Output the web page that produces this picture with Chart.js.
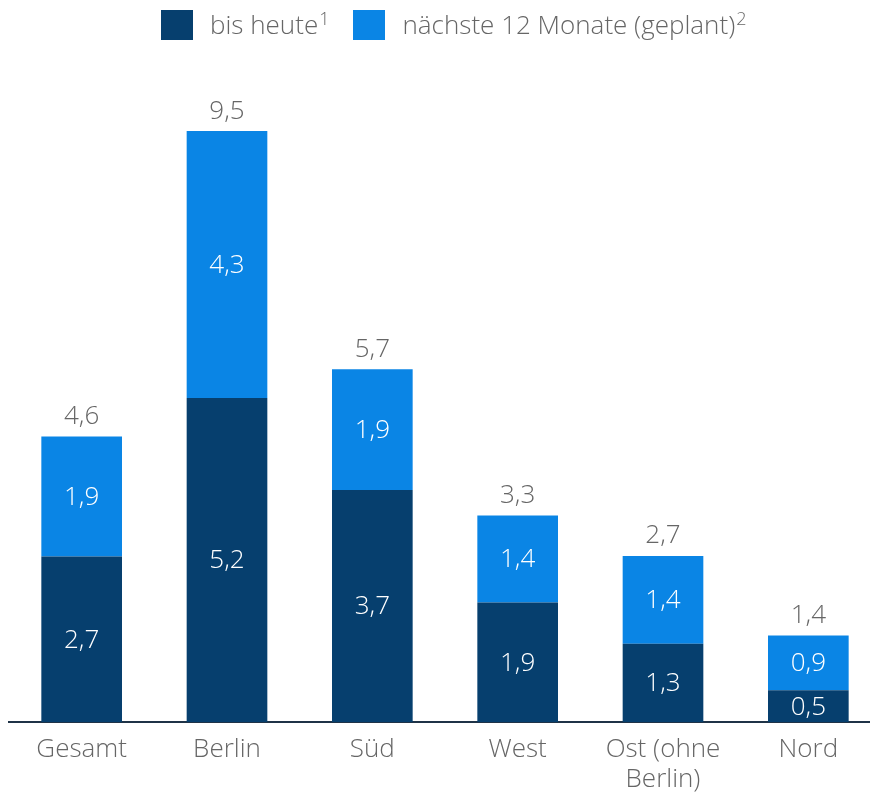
<!DOCTYPE html>
<html>
<head>
<meta charset="utf-8">
<script src="https://cdn.jsdelivr.net/npm/chart.js@4"></script>
<style>
  html, body { margin: 0; padding: 0; background: #fff; overflow: hidden; width: 870px; height: 794px; }
  #wrap { position: relative; width: 882px; height: 794px; }
  canvas { position: absolute; left: 0; top: 0; }
  .legend { position: absolute; top: 9px; left: 161px; display: flex; align-items: center; font-family: "Open Sans", sans-serif; font-weight: 300; font-size: 26px; color: #666; line-height: 31px; }
  .legend .item { display: flex; align-items: center; margin-right: 24px; }
  .legend .box { width: 32px; height: 30px; margin-right: 17px; }
  .legend sup { font-size: 18px; vertical-align: 9px; line-height: 0; margin-left: 1px; }
</style>
</head>
<body>
<div id="wrap">
  <canvas id="c" width="882" height="794"></canvas>
  <div class="legend">
    <div class="item"><span class="box" style="background:#063f6e"></span><span>bis heute<sup>1</sup></span></div>
    <div class="item"><span class="box" style="background:#0a85e5"></span><span>nächste 12 Monate (geplant)<sup>2</sup></span></div>
  </div>
</div>
<script>
const categories = [["Gesamt"], ["Berlin"], ["Süd"], ["West"], ["Ost (ohne", "Berlin)"], ["Nord"]];
const seriesNames = ["bis heute¹", "nächste 12 Monate (geplant)²"];
const bisHeute = [2.66, 5.21, 3.73, 1.92, 1.26, 0.51];
const naechste12 = [1.93, 4.29, 1.94, 1.40, 1.41, 0.88];

const fmt = v => (Math.round(v * 10) / 10).toFixed(1).replace('.', ',');
const FONT = '300 26px "Open Sans", sans-serif';

const labelPlugin = {
  id: 'labels',
  afterDatasetsDraw(chart) {
    const ctx = chart.ctx;
    ctx.save();
    ctx.font = FONT;
    ctx.textAlign = 'center';
    ctx.textBaseline = 'middle';
    chart.data.datasets.forEach((ds, di) => {
      const meta = chart.getDatasetMeta(di);
      meta.data.forEach((bar, i) => {
        const y = (bar.y + bar.base) / 2;
        ctx.fillStyle = '#ffffff';
        ctx.fillText(fmt(ds.data[i]), bar.x, y + 1);
      });
    });
    const top = chart.getDatasetMeta(1);
    top.data.forEach((bar, i) => {
      ctx.fillStyle = '#666666';
      ctx.fillText(fmt(bisHeute[i] + naechste12[i]), bar.x, bar.y - 20);
    });
    ctx.restore();
  }
};

new Chart(document.getElementById('c'), {
  type: 'bar',
  data: {
    labels: categories,
    datasets: [
      { label: seriesNames[0], data: bisHeute, backgroundColor: '#063f6e', stack: 's' },
      { label: seriesNames[1], data: naechste12, backgroundColor: '#0a85e5', stack: 's' }
    ]
  },
  options: {
    responsive: false,
    animation: false,
    events: [],
    layout: { padding: { left: 9, right: 1, top: 100, bottom: 0 } },
    plugins: { legend: { display: false }, tooltip: { enabled: false } },
    datasets: { bar: { categoryPercentage: 1, barPercentage: 0.555 } },
    scales: {
      x: {
        stacked: true,
        grid: { display: false, drawTicks: false },
        border: { display: true, color: '#1f3347', width: 2 },
        ticks: { color: '#666', font: { family: '"Open Sans", sans-serif', weight: 300, size: 26, lineHeight: 1.15 }, padding: 13, maxRotation: 0, autoSkip: false },
        afterFit(scale) { scale.height = 72; }
      },
      y: {
        stacked: true,
        display: false,
        min: 0,
        max: 10
      }
    }
  },
  plugins: [labelPlugin]
});
</script>
</body>
</html>
